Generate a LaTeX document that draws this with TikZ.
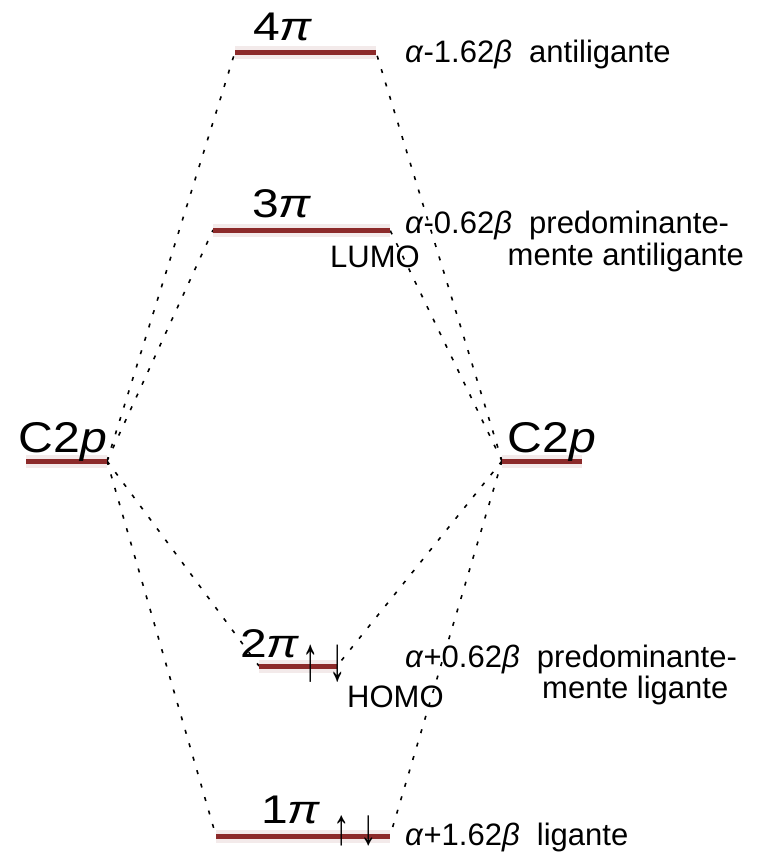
\documentclass[tikz,border=0pt]{standalone}
\usepackage{fontspec}
\setmainfont{Liberation Sans}
\definecolor{barred}{RGB}{140,42,42}
\newcommand\widetext[1]{\scalebox{1.2}[1]{#1}}
\tikzset{
  lvl/.style={line width=5pt, draw=barred},
  halo/.style={line width=13pt, draw=barred!10},
  conn/.style={line width=1.6pt, dash pattern=on 4pt off 10pt},
  big/.style={font=\fontsize{40}{46}\selectfont, inner sep=0pt, anchor=base},
  bigc/.style={font=\fontsize{43}{48}\selectfont, inner sep=0pt, anchor=base},
  lab/.style={font=\fontsize{31}{36}\selectfont, inner sep=0pt, anchor=base west},
  labr/.style={font=\fontsize{31}{36}\selectfont, inner sep=0pt, anchor=base east},
  spin/.style={font=\fontsize{30}{36}\selectfont, inner sep=0pt, anchor=center},
}
\begin{document}
\begin{tikzpicture}[x=1pt,y=-1pt]
\useasboundingbox (0,0) rectangle (765,854);
% level end points
\coordinate (l4) at (235,52);  \coordinate (r4) at (376,52);
\coordinate (l3) at (213,230); \coordinate (r3) at (390,230);
\coordinate (lcL) at (26,461); \coordinate (rcL) at (107,461);
\coordinate (lcR) at (502,461); \coordinate (rcR) at (582,461);
\coordinate (l2) at (259,666); \coordinate (r2) at (337,666);
\coordinate (l1) at (216,836); \coordinate (r1) at (390,836);
% halos
\foreach \a/\b in {l4/r4,l3/r3,lcL/rcL,lcR/rcR,l2/r2,l1/r1}
  \draw[halo] (\a) -- (\b);
% connectors
\draw[conn] (rcL) -- (l4);
\draw[conn] (rcL) -- (l3);
\draw[conn] (rcL) -- (l2);
\draw[conn] (rcL) -- (l1);
\draw[conn] (lcR) -- (r4);
\draw[conn] (lcR) -- (r3);
\draw[conn] (lcR) -- (r2);
\draw[conn] (lcR) -- (r1);
% bars
\foreach \a/\b in {l4/r4,l3/r3,lcL/rcL,lcR/rcR,l2/r2,l1/r1}
  \draw[lvl] (\a) -- (\b);
% level labels
\node[big] (t4) at (283,40) {\widetext{4\textit{π}}};
\node[big] (t3) at (282,217) {\widetext{3\textit{π}}};
\node[big] (t2) at (270,657) {\widetext{2\textit{π}}};
\node[big] (t1) at (291,823) {\widetext{1\textit{π}}};
\node[bigc] (cL) at (63,452) {\scalebox{1.12}[1]{C2\textit{p}}};
\node[bigc] (cR) at (552,452) {\scalebox{1.12}[1]{C2\textit{p}}};
% spins
\node[spin] (u2) at (311,664) {\scalebox{1.1}[2.1]{↑}};
\node[spin] (d2) at (338,664) {\scalebox{1.1}[2.1]{↓}};
\node[spin] (u1) at (342,831) {\scalebox{1.1}[1.7]{↑}};
\node[spin] (d1) at (369,831) {\scalebox{1.1}[1.7]{↓}};
% LUMO / HOMO
\node[lab] (lumo) at (330,267) {LUMO};
\node[lab] (homo) at (347,707) {HOMO};
% energies
\node[lab] (e4) at (405,62) {\textit{α}-1.62\textit{β}\ \ antiligante};
\node[lab] (e3) at (405,233) {\textit{α}-0.62\textit{β}\ \ predominante-};
\node[labr] (e3b) at (744,265) {mente antiligante};
\node[lab] (e2) at (405,667) {\textit{α}+0.62\textit{β}\ \ predominante-};
\node[lab] (e2b) at (542,698) {mente ligante};
\node[lab] (e1) at (405,845) {\textit{α}+1.62\textit{β}\ \ ligante};
\end{tikzpicture}
\end{document}
